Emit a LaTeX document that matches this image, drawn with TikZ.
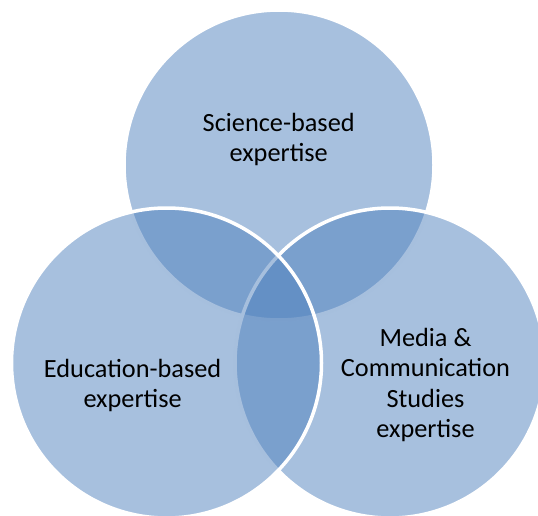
\documentclass[tikz,border=0pt]{standalone}
\usepackage{fontspec}
\setmainfont{Carlito}
\definecolor{vblue}{HTML}{4F81BD}
\begin{document}
\begin{tikzpicture}[x=1pt,y=-1pt,
  venn/.style={circle, minimum size=310pt, inner sep=0pt, fill=vblue, fill opacity=0.5, draw=white, draw opacity=1, line width=3.5pt},
  lbl/.style={align=center, inner sep=0pt, font=\fontsize{26.3}{30.3}\selectfont, text=black}]
\useasboundingbox (0,0) rectangle (538,516);
\clip (0,0) rectangle (538,516);
\node[venn] (sci) at (279,165) {};
\node[venn] (med) at (390,363) {};
\node[venn] (edu) at (166.5,363) {};
\node[lbl] (scit) at (278.7,139.7) {Science-based\\expertise};
\node[lbl] (edut) at (132.6,385.2) {Education-based\\expertise};
\node[lbl] (medt) at (425.5,385.1) {Media \&\\Communication\\Studies\\expertise};
\end{tikzpicture}
\end{document}
